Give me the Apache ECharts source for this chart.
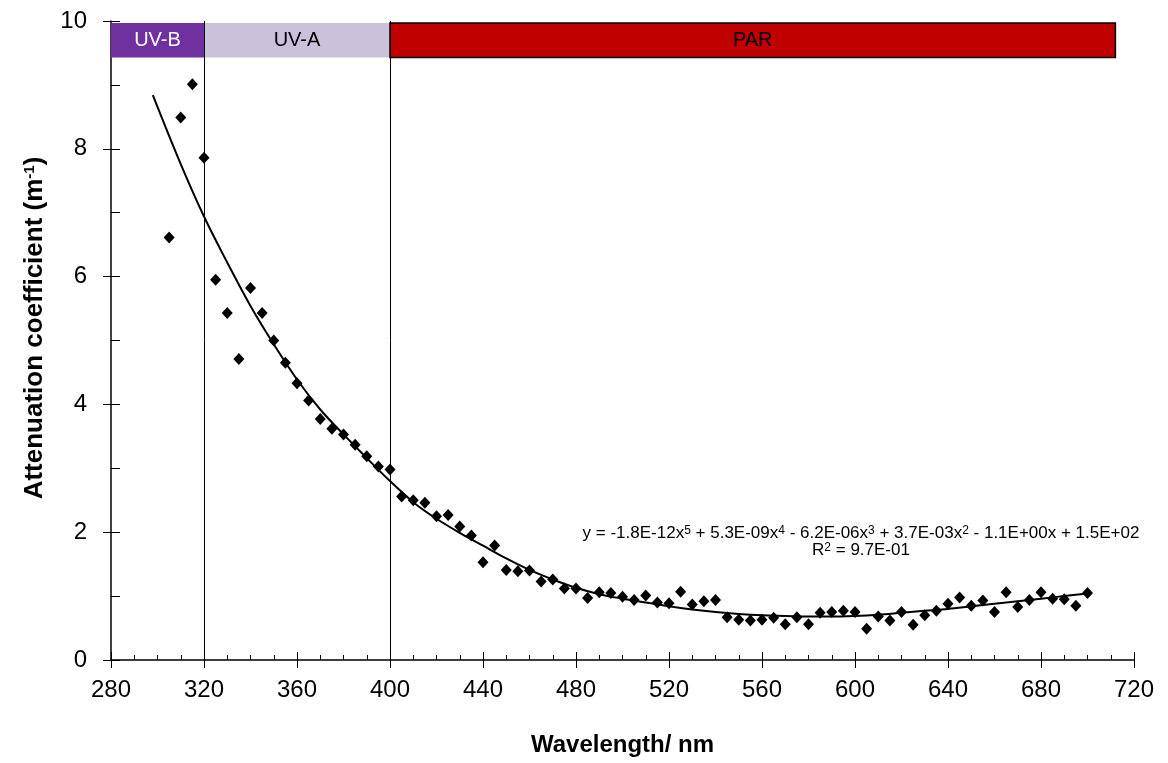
<!DOCTYPE html>
<html>
<head>
<meta charset="utf-8">
<script src="https://cdn.jsdelivr.net/npm/echarts@6/dist/echarts.min.js"></script>
<style>
html,body{margin:0;padding:0;background:#fff;}
#chart{width:1168px;height:763px;}
</style>
</head>
<body>
<div id="chart"></div>
<script>
// Measured wavelengths (nm)
const wavelengths = [305,310,315,320,325,330,335,340,345,350,355,360,365,370,375,380,385,390,395,400,
  405,410,415,420,425,430,435,440,445,450,455,460,465,470,475,480,485,490,495,500,
  505,510,515,520,525,530,535,540,545,550,555,560,565,570,575,580,585,590,595,600,
  605,610,615,620,625,630,635,640,645,650,655,660,665,670,675,680,685,690,695,700];
// Attenuation coefficient (m^-1)
const attenuation = [6.61,8.49,9.01,7.86,5.95,5.43,4.71,5.82,5.43,5.00,4.65,4.33,4.06,3.77,3.62,3.53,3.37,3.19,3.03,2.98,
  2.56,2.50,2.46,2.25,2.27,2.09,1.95,1.53,1.79,1.41,1.39,1.40,1.23,1.26,1.12,1.12,0.97,1.06,1.05,0.99,
  0.94,1.01,0.90,0.89,1.07,0.87,0.92,0.94,0.67,0.63,0.62,0.63,0.66,0.56,0.67,0.56,0.74,0.75,0.77,0.75,
  0.49,0.68,0.62,0.75,0.55,0.70,0.77,0.88,0.98,0.85,0.93,0.75,1.06,0.83,0.94,1.06,0.96,0.95,0.85,1.05];
// Trend line
const trendX = [298,310,320,330,340,350,360,370,380,390,400,410,420,430,440,450,460,470,480,490,500,
  510,520,530,540,550,560,570,580,590,600,610,620,630,640,650,660,670,680,690,700];
const trendY = [8.84,7.76,6.94,6.22,5.54,4.94,4.39,3.92,3.53,3.16,2.80,2.47,2.21,1.99,1.79,1.59,1.41,1.26,1.13,1.03,0.96,
  0.90,0.84,0.79,0.75,0.72,0.70,0.69,0.68,0.68,0.69,0.71,0.74,0.77,0.80,0.84,0.88,0.92,0.96,1.00,1.04];
// Spectral bands
const bandNames = ['UV-B','UV-A','PAR'];
const bandStart = [280,320,400];
const bandEnd = [320,400,712];
const bandColors = ['#7030A0','#CCC1DA','#C00000'];
const bandTextColors = ['#ffffff','#000000','#000000'];
const bandBottom = 9.43, bandTop = 9.97;
const dividers = [320,400];
const xTicks = [280,320,360,400,440,480,520,560,600,640,680,720];
const yTicks = [0,2,4,6,8,10];

const FONT = '"Liberation Sans", Arial, sans-serif';
const chart = echarts.init(document.getElementById('chart'));

const baseX = {type:'value', min:280, max:720, interval:40, position:'bottom'};
const baseY = {type:'value', min:0, max:10, interval:2, position:'left'};

chart.setOption({
  animation:false,
  backgroundColor:'#fff',
  grid:{left:111, right:34, top:21, bottom:103},
  xAxis:[
    Object.assign({}, baseX, {
      name:'Wavelength/ nm', nameLocation:'middle', nameGap:73,
      nameTextStyle:{fontFamily:FONT, fontWeight:'bold', fontSize:24, color:'#000'},
      axisLine:{show:true, onZero:false, lineStyle:{color:'#000', width:1.5}},
      axisTick:{show:true, inside:true, length:8, lineStyle:{color:'#000'}},
      minorTick:{show:true, splitNumber:4, length:5, lineStyle:{color:'#000'}},
      axisLabel:{fontFamily:FONT, fontSize:24, color:'#000', margin:18},
      splitLine:{show:false}
    }),
    Object.assign({}, baseX, {
      axisLine:{show:false, onZero:false},
      axisTick:{show:true, inside:false, length:8, lineStyle:{color:'#000'}},
      axisLabel:{show:false}, splitLine:{show:false}
    })
  ],
  yAxis:[
    Object.assign({}, baseY, {
      axisLine:{show:true, onZero:false, lineStyle:{color:'#000', width:1.5}},
      axisTick:{show:true, inside:true, length:9, lineStyle:{color:'#000'}},
      minorTick:{show:true, splitNumber:2, length:9, lineStyle:{color:'#000'}},
      axisLabel:{fontFamily:FONT, fontSize:24, color:'#000', margin:24},
      splitLine:{show:false}
    }),
    Object.assign({}, baseY, {
      axisLine:{show:false, onZero:false},
      axisTick:{show:true, inside:false, length:8, lineStyle:{color:'#000'}},
      axisLabel:{show:false}, splitLine:{show:false}
    })
  ],
  series:[
    {
      name:'bands', type:'scatter', data:[], silent:true,
      markArea:{
        silent:true,
        data: bandNames.map((n,i)=>[
          {name:n, xAxis:bandStart[i], yAxis:bandBottom,
           itemStyle:{color:bandColors[i], borderColor: i===2 ? '#000' : bandColors[i], borderWidth: i===2 ? 1.5 : 0},
           label:{show:true, position:'inside', color:bandTextColors[i], fontFamily:FONT, fontSize:20}},
          {xAxis:bandEnd[i], yAxis:bandTop}
        ])
      },
      markLine:{
        silent:true, symbol:'none', label:{show:false},
        lineStyle:{color:'#000', width:1, type:'solid'},
        data: dividers.map(d=>({xAxis:d}))
      }
    },
    {
      name:'trend', type:'line', smooth:0.35, showSymbol:false, symbol:'none',
      data: trendX.map((x,i)=>[x,trendY[i]]),
      lineStyle:{color:'#000', width:2}, z:3
    },
    {
      name:'attenuation', type:'scatter', symbol:'diamond', symbolSize:[11,12],
      data: wavelengths.map((x,i)=>[x,attenuation[i]]),
      itemStyle:{color:'#000', opacity:1}, z:4
    }
  ],
  graphic:[
    {type:'text', x:35, y:328, rotation:Math.PI/2, style:{
      text:'Attenuation coefficient (m{s|-1})', align:'center', verticalAlign:'middle',
      fill:'#000', fontFamily:FONT, fontWeight:'bold', fontSize:26,
      rich:{s:{fontFamily:FONT, fontWeight:'bold', fontSize:15, verticalAlign:'top', fill:'#000'}}
    }},
    {type:'text', x:861, y:542, style:{
      text:'y = -1.8E-12x{s|5} + 5.3E-09x{s|4} - 6.2E-06x{s|3} + 3.7E-03x{s|2} - 1.1E+00x + 1.5E+02\nR{s|2} = 9.7E-01',
      align:'center', verticalAlign:'middle', fill:'#000', fontFamily:FONT, fontSize:17,
      lineHeight:17,
      rich:{s:{fontFamily:FONT, fontSize:12, verticalAlign:'top', fill:'#000', lineHeight:17}}
    }}
  ]
});
</script>
</body>
</html>
